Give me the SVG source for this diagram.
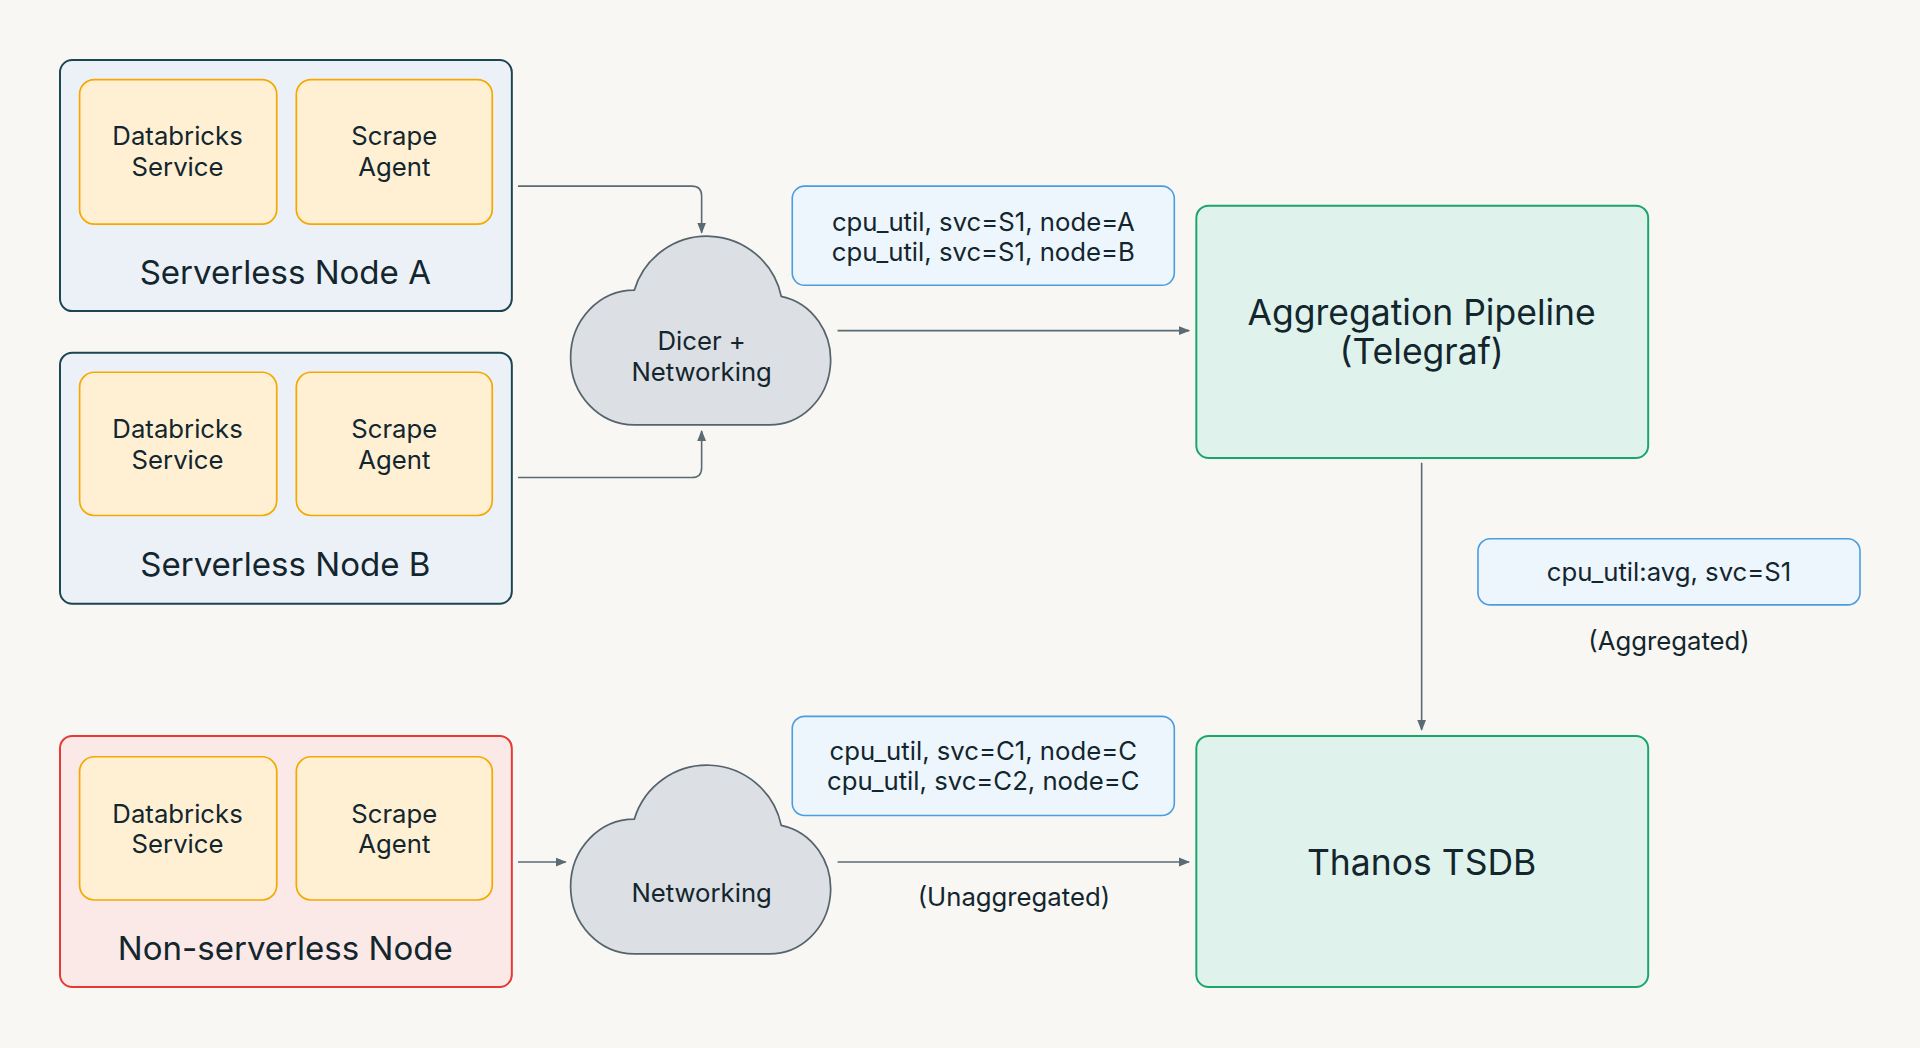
<svg xmlns="http://www.w3.org/2000/svg" width="1920" height="1048" viewBox="0 0 1920 1048">
<style>
text{font-family:Inter,"Noto Sans",sans-serif;fill:#13262e;text-anchor:middle;dominant-baseline:central}
.node{stroke-width:1.6}
.srv{fill:#ecf1f8;stroke:#1b4552}
.ns{fill:#fbe9e7;stroke:#e53935}
.inner{fill:#fff0d4;stroke:#f5a800;stroke-width:1.4}
.stage{fill:#dff3ec;stroke:#1aa56b;stroke-width:1.6}
.lbl{fill:#eef6fd;stroke:#4a9de0;stroke-width:1.3}
.cloud{fill:#dcdfe3;stroke:#55636c;stroke-width:1.4}
.c{fill:none;stroke:#5a6b73;stroke-width:1.3}
.t20{font-size:21px}.t26{font-size:27px}.t28{font-size:29px}
</style>
<defs>
<marker id="ah" viewBox="0 0 10 10" refX="9" refY="5" markerWidth="7" markerHeight="7" orient="auto"><path d="M0,1 L10,5 L0,9 z" fill="#5a6b73"/></marker>
<path id="cl" class="cloud" d="M -55,75 A 52 55 0 0 1 -55,-35 A 62 62 0 0 1 65,-30 A 50 53 0 0 1 55,75 Z"/>
</defs>
<rect width="1920" height="1048" fill="#f8f7f4"/>
<g transform="scale(1.2245)">
<g id="nodeA"><rect class="node srv" x="49" y="49" width="369" height="205" rx="10"/>
<rect class="inner" x="65" y="65" width="161" height="118" rx="12"/><rect class="inner" x="242" y="65" width="160" height="118" rx="12"/>
<text class="t20" x="145" y="111">Databricks</text><text class="t20" x="145" y="136">Service</text>
<text class="t20" x="322" y="111">Scrape</text><text class="t20" x="322" y="136">Agent</text>
<text class="t26" x="233" y="222">Serverless Node A</text></g>
<g id="nodeB"><rect class="node srv" x="49" y="288" width="369" height="205" rx="10"/>
<rect class="inner" x="65" y="304" width="161" height="117" rx="12"/><rect class="inner" x="242" y="304" width="160" height="117" rx="12"/>
<text class="t20" x="145" y="350">Databricks</text><text class="t20" x="145" y="375">Service</text>
<text class="t20" x="322" y="350">Scrape</text><text class="t20" x="322" y="375">Agent</text>
<text class="t26" x="233" y="461">Serverless Node B</text></g>
<g id="nodeC"><rect class="node ns" x="49" y="601" width="369" height="205" rx="10"/>
<rect class="inner" x="65" y="618" width="161" height="117" rx="12"/><rect class="inner" x="242" y="618" width="160" height="117" rx="12"/>
<text class="t20" x="145" y="664">Databricks</text><text class="t20" x="145" y="689">Service</text>
<text class="t20" x="322" y="664">Scrape</text><text class="t20" x="322" y="689">Agent</text>
<text class="t26" x="233" y="774">Non-serverless Node</text></g>
<g id="cloud1"><use href="#cl" x="573" y="272"/><text class="t20" x="573" y="278">Dicer +</text><text class="t20" x="573" y="303">Networking</text></g>
<g id="cloud2"><use href="#cl" x="573" y="704"/><text class="t20" x="573" y="729">Networking</text></g>
<g id="agg"><rect class="stage" x="977" y="168" width="369" height="206" rx="10"/><text class="t28" x="1161" y="255">Aggregation Pipeline</text><text class="t28" x="1161" y="287">(Telegraf)</text></g>
<g id="thanos"><rect class="stage" x="977" y="601" width="369" height="205" rx="10"/><text class="t28" x="1161" y="704">Thanos TSDB</text></g>
<g id="lbl1"><rect class="lbl" x="647" y="152" width="312" height="81" rx="10"/><text class="t20" x="803" y="181">cpu_util, svc=S1, node=A</text><text class="t20" x="803" y="205">cpu_util, svc=S1, node=B</text></g>
<g id="lbl2"><rect class="lbl" x="1207" y="440" width="312" height="54" rx="10"/><text class="t20" x="1363" y="467">cpu_util:avg, svc=S1</text></g>
<g id="lbl3"><rect class="lbl" x="647" y="585" width="312" height="81" rx="10"/><text class="t20" x="803" y="613">cpu_util, svc=C1, node=C</text><text class="t20" x="803" y="637">cpu_util, svc=C2, node=C</text></g>
<text class="t20" x="1363" y="523">(Aggregated)</text>
<text class="t20" x="828" y="732">(Unaggregated)</text>
<g id="connectors">
<path class="c" d="M423,152 H565 Q573,152 573,160 V190" marker-end="url(#ah)"/>
<path class="c" d="M423,390 H565 Q573,390 573,382 V352" marker-end="url(#ah)"/>
<path class="c" d="M684,270 H971" marker-end="url(#ah)"/>
<path class="c" d="M1161,378 V596" marker-end="url(#ah)"/>
<path class="c" d="M423,704 H462" marker-end="url(#ah)"/>
<path class="c" d="M684,704 H971" marker-end="url(#ah)"/>
</g>
</g>
</svg>
